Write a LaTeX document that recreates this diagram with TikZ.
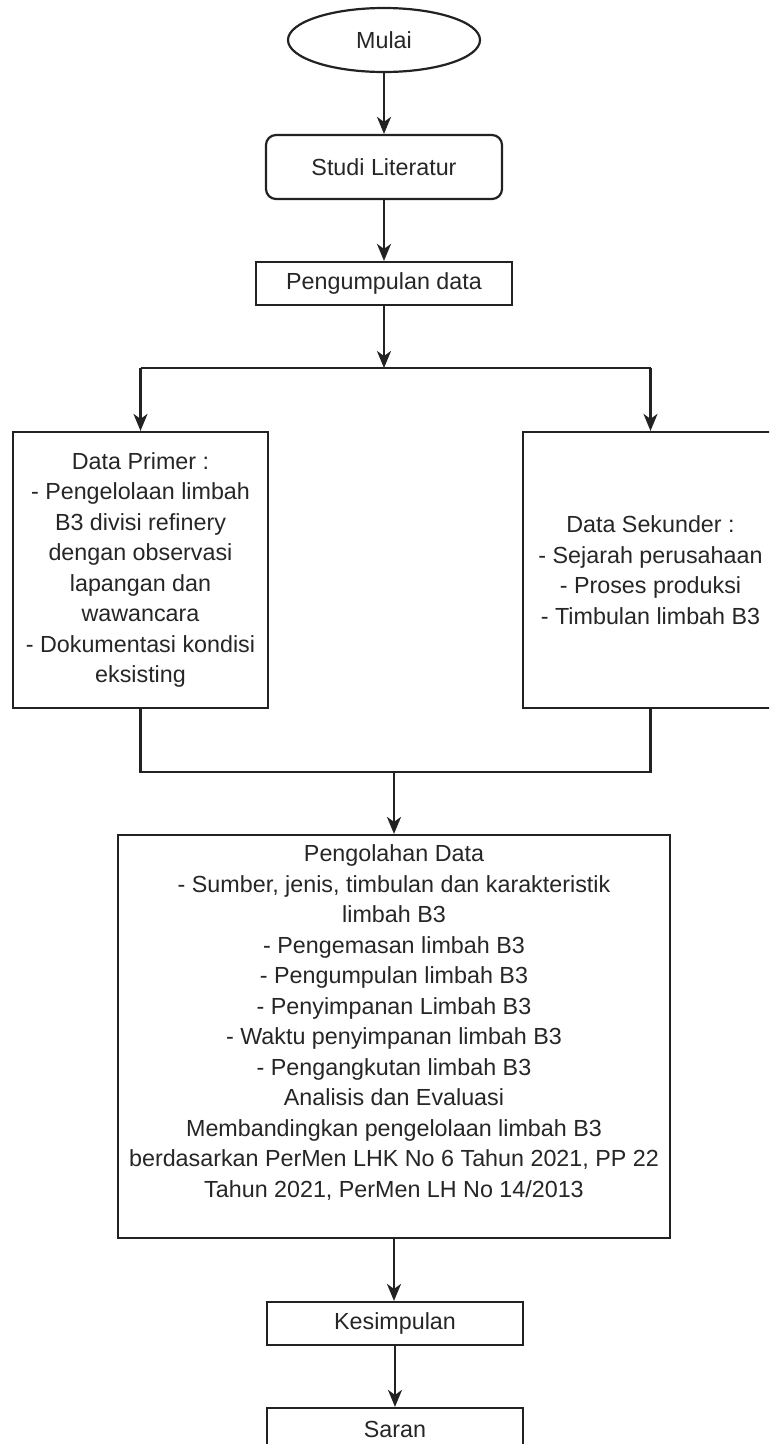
\documentclass[tikz,border=0pt]{standalone}
\usepackage{fontspec}
\setmainfont{Liberation Sans}
\usetikzlibrary{shapes.geometric,arrows.meta}
\definecolor{linec}{HTML}{222222}
\definecolor{textc}{HTML}{262626}
\tikzset{
  box/.style={draw=linec, line width=2.2pt, rectangle, inner sep=0pt, align=center,
    text=textc, font=\fontsize{23.3}{30.5}\selectfont},
  startbox/.style={box, ellipse, minimum width=192pt, minimum height=64pt},
  roundbox/.style={box, rounded corners=10pt},
  conn/.style={draw=linec, line width=2.2pt},
  arrowc/.style={conn, -{Stealth[length=17pt,width=14pt,inset=5pt]}},
}
\begin{document}
\begin{tikzpicture}[x=1pt,y=-1pt]
\useasboundingbox (0,0) rectangle (769,1444);
\clip (0,0) rectangle (769,1444);
\fill[white] (0,0) rectangle (769,1444);

\node[startbox] (mulai) at (384,40) {Mulai};
\node[roundbox, minimum width=236pt, minimum height=64pt] (studi) at (384,167) {Studi Literatur};
\node[box, minimum width=256pt, minimum height=43pt] (kumpul) at (384,283.5) {Pengumpulan data};
\node[box, minimum width=255pt, minimum height=276pt] (primer) at (140.5,570) {Data Primer :\\- Pengelolaan limbah\\B3 divisi refinery\\dengan observasi\\lapangan dan\\wawancara\\- Dokumentasi kondisi\\eksisting};
\node[box, minimum width=255pt, minimum height=276pt] (sekunder) at (650.5,570) {Data Sekunder :\\- Sejarah perusahaan\\- Proses produksi\\- Timbulan limbah B3};
\node[box, minimum width=552pt, minimum height=403pt] (olah) at (394,1036.5) {Pengolahan Data\\- Sumber, jenis, timbulan dan karakteristik\\limbah B3\\- Pengemasan limbah B3\\- Pengumpulan limbah B3\\- Penyimpanan Limbah B3\\- Waktu penyimpanan limbah B3\\- Pengangkutan limbah B3\\Analisis dan Evaluasi\\Membandingkan pengelolaan limbah B3\\berdasarkan PerMen LHK No 6 Tahun 2021, PP 22\\Tahun 2021, PerMen LH No 14/2013\\\mbox{}};
\node[box, minimum width=256pt, minimum height=43pt] (simpul) at (395,1323.5) {Kesimpulan};
\node[box, minimum width=256pt, minimum height=43pt] (saran) at (395,1429.5) {Saran};

\coordinate (split) at (384,368);
\coordinate (join) at (394,772);

\draw[arrowc] (mulai) -- (studi);
\draw[arrowc] (studi) -- (kumpul);
\draw[arrowc] (kumpul.south) -- (split);
\draw[conn] (primer.north |- split) -- (sekunder.north |- split);
\draw[arrowc] (primer.north |- split) -- (primer.north);
\draw[arrowc] (sekunder.north |- split) -- (sekunder.north);
\draw[conn] (primer.south) -- (primer.south |- join) -- (sekunder.south |- join) -- (sekunder.south);
\draw[arrowc] (join) -- (olah.north);
\draw[arrowc] (olah.south) -- (olah.south |- simpul.north);
\draw[arrowc] (simpul) -- (saran);
\end{tikzpicture}
\end{document}
